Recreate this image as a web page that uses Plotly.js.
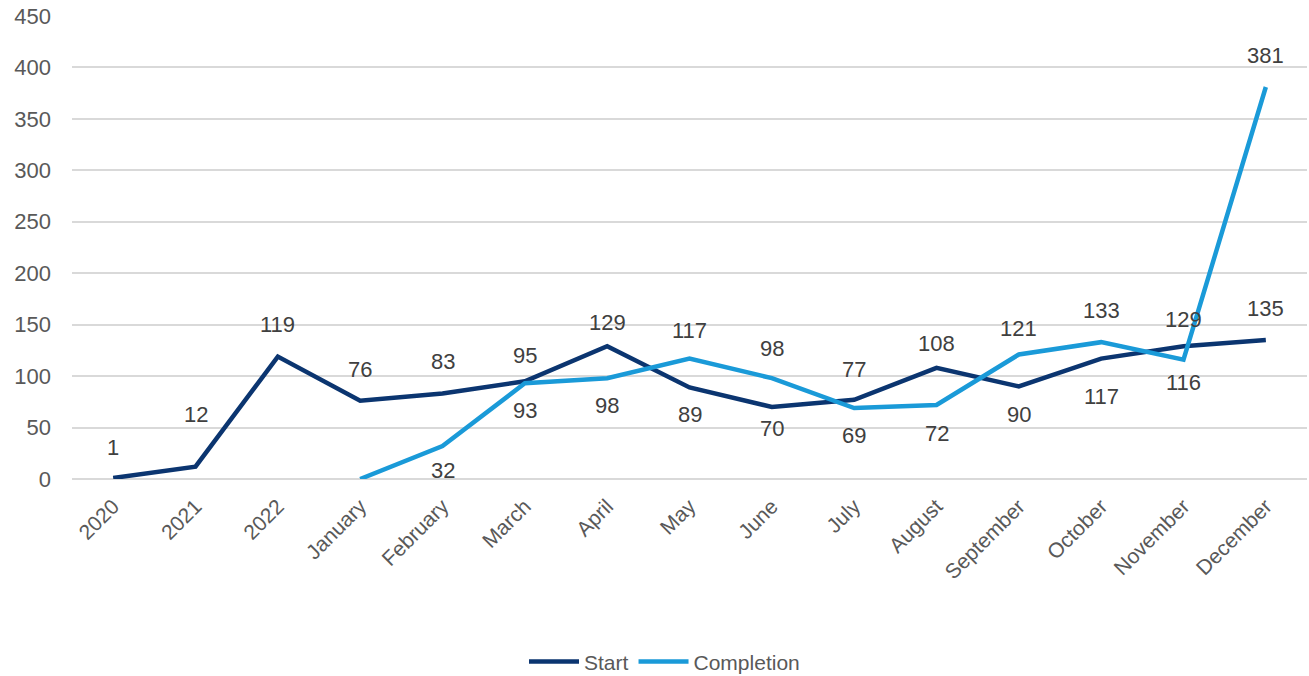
<!DOCTYPE html>
<html>
<head>
<meta charset="utf-8">
<script src="https://cdn.plot.ly/plotly-3.0.1.min.js"></script>
<style>html,body{margin:0;padding:0;background:#fff;}#chart{width:1309px;height:676px;}</style>
</head>
<body>
<div id="chart"></div>
<script>
const categories = ["2020","2021","2022","January","February","March","April","May","June","July","August","September","October","November","December"];
const startValues = [1,12,119,76,83,95,129,89,70,77,108,90,117,129,135];
const completionCategories = ["January","February","March","April","May","June","July","August","September","October","November","December"];
const completionValues = [0,32,93,98,117,98,69,72,121,133,116,381];
const completionLabels = ["","32","93","98","117","98","69","72","121","133","116","381"];

// label placement (pixel offsets above (+) / below (-) the point)
const startLabelShift = [30,52,32,31,32,26,24,-27,-22,30,24,-28,-38,27,32];
const completionLabelShift = [0,-24,-27,-27,28,30,-27,-29,26,32,-23,31];

const fontFamily = "Liberation Sans, Arial, sans-serif";
const labelFont = {family: fontFamily, size: 22, color: "#404040"};

const traces = [
  {x: categories, y: startValues, name: "Start", type: "scatter", mode: "lines",
   line: {color: "#0B3570", width: 4.5}},
  {x: completionCategories, y: completionValues, name: "Completion", type: "scatter", mode: "lines",
   line: {color: "#1A9AD8", width: 4.5}}
];

const annotations = [];
categories.forEach((c, i) => annotations.push({
  x: categories.indexOf(c), y: startValues[i], xref: "x", yref: "y", text: String(startValues[i]),
  showarrow: false, yshift: startLabelShift[i], font: labelFont
}));
completionCategories.forEach((c, i) => {
  if (completionLabels[i] === "") return;
  annotations.push({
    x: categories.indexOf(c), y: completionValues[i], xref: "x", yref: "y", text: completionLabels[i],
    showarrow: false, yshift: completionLabelShift[i], font: labelFont
  });
});

const layout = {
  width: 1309, height: 676,
  margin: {l: 72, r: 2, t: 16, b: 197, autoexpand: false},
  paper_bgcolor: "#fff", plot_bgcolor: "#fff",
  font: {family: fontFamily, color: "#595959", size: 21},
  xaxis: {
    type: "category", categoryorder: "array", categoryarray: categories,
    range: [-0.5, categories.length - 0.5], automargin: false,
    tickangle: -45, showgrid: false, zeroline: false, showline: false,
    ticks: "", tickfont: {size: 21, color: "#595959"}, ticklabelstandoff: 10
  },
  yaxis: {
    range: [0, 450], dtick: 50, showgrid: true, gridcolor: "#D9D9D9", gridwidth: 2,
    zeroline: true, zerolinecolor: "#D9D9D9", zerolinewidth: 2, automargin: false,
    ticks: "", tickfont: {size: 22, color: "#595959"}, ticklabelstandoff: 20
  },
  annotations: annotations,
  legend: {
    orientation: "h", x: 0.366, xanchor: "left", y: -0.395, yanchor: "middle",
    font: {size: 21, color: "#595959"}, itemwidth: 50
  },
  showlegend: true
};

Plotly.newPlot("chart", traces, layout, {displayModeBar: false, staticPlot: true});
</script>
</body>
</html>
